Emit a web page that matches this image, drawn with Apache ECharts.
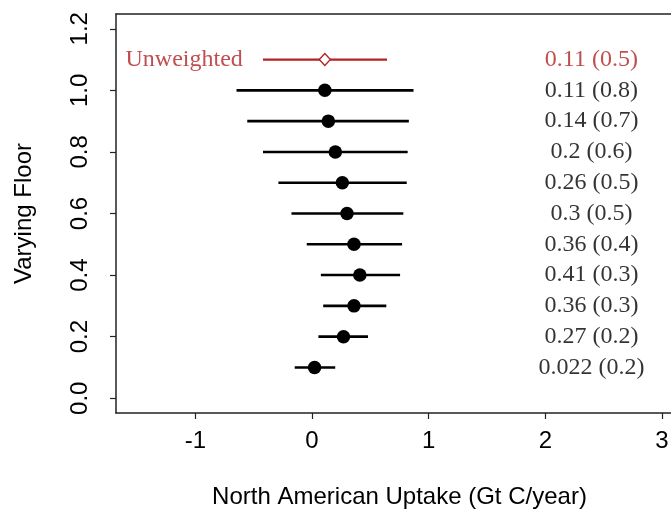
<!DOCTYPE html>
<html>
<head>
<meta charset="utf-8">
<script src="https://cdn.jsdelivr.net/npm/echarts@6/dist/echarts.min.js"></script>
<style>html,body{margin:0;padding:0;background:#fff;}#c{width:671px;height:522px;}</style>
</head>
<body>
<div id="c"></div>
<script>
// ---- data ----
const floors = [1.0, 0.9, 0.8, 0.7, 0.6, 0.5, 0.4, 0.3, 0.2, 0.1];
const means  = [0.11, 0.14, 0.2, 0.26, 0.3, 0.36, 0.41, 0.36, 0.27, 0.022];
const lows   = [-0.647, -0.555, -0.42, -0.288, -0.176, -0.045, 0.076, 0.096, 0.055, -0.148];
const highs  = [0.87, 0.83, 0.82, 0.812, 0.783, 0.772, 0.755, 0.637, 0.48, 0.199];
const sds    = ['0.8', '0.7', '0.6', '0.5', '0.5', '0.4', '0.3', '0.3', '0.2', '0.2'];
const meanLabels = ['0.11', '0.14', '0.2', '0.26', '0.3', '0.36', '0.41', '0.36', '0.27', '0.022'];

const unwY = 1.1, unwMean = 0.11, unwLow = -0.42, unwHigh = 0.643;
const unwLabel = '0.11 (0.5)';
const unwName = 'Unweighted';

const xTicks = [-1, 0, 1, 2, 3];
const yTicks = [0, 0.2, 0.4, 0.6, 0.8, 1.0, 1.2];
const labelX = 2.395;
const nameX = -1.096;

const RED = '#B22222';
const sans = 'Liberation Sans, Arial, sans-serif';
const serif = 'Liberation Serif, Times New Roman, serif';

const chart = echarts.init(document.getElementById('c'), null, {renderer: 'canvas'});

function barItem(color, w) {
  return function (params, api) {
    const y = api.value(2);
    const p1 = api.coord([api.value(0), y]);
    const p2 = api.coord([api.value(1), y]);
    return {type: 'line', shape: {x1: p1[0], y1: p1[1], x2: p2[0], y2: p2[1]},
            style: {stroke: color, lineWidth: w}};
  };
}

const axisLineStyle = {color: '#222', width: 1.5};

chart.setOption({
  animation: false,
  backgroundColor: '#fff',
  grid: {left: 116, top: 14, width: 567, height: 399, containLabel: false, outerBoundsMode: 'none'},
  xAxis: [{
    type: 'value', min: -1.68, max: 3.18, position: 'bottom',
    name: 'North American Uptake (Gt C/year)', nameLocation: 'middle', nameGap: 72,
    nameTextStyle: {fontFamily: sans, fontSize: 24, color: '#000'},
    axisLine: {show: true, onZero: false, lineStyle: axisLineStyle},
    axisTick: {show: true, length: 6, lineStyle: {color: '#222', width: 1.2}, customValues: xTicks},
    axisLabel: {show: true, fontFamily: sans, fontSize: 24, color: '#000', margin: 16, customValues: xTicks,
                formatter: v => String(v)},
    splitLine: {show: false}
  }, {
    type: 'value', min: -1.68, max: 3.18, position: 'top',
    axisLine: {show: true, onZero: false, lineStyle: axisLineStyle},
    axisTick: {show: false}, axisLabel: {show: false}, splitLine: {show: false}
  }],
  yAxis: [{
    type: 'value', min: -0.048, max: 1.248, position: 'left',
    name: 'Varying Floor', nameLocation: 'middle', nameGap: 80, nameRotate: 90,
    nameTextStyle: {fontFamily: sans, fontSize: 24, color: '#000'},
    axisLine: {show: true, onZero: false, lineStyle: axisLineStyle},
    axisTick: {show: true, length: 6, lineStyle: {color: '#222', width: 1.2}, customValues: yTicks},
    axisLabel: {show: true, rotate: 90, fontFamily: sans, fontSize: 24, color: '#000', margin: 24,
                customValues: yTicks, formatter: v => v.toFixed(1)},
    splitLine: {show: false}
  }],
  series: [
    {
      type: 'custom', renderItem: barItem('#000', 2.6),
      encode: {x: [0, 1], y: 2},
      data: floors.map((f, i) => [lows[i], highs[i], f]),
      z: 2
    },
    {
      type: 'custom', renderItem: barItem(RED, 2.3),
      encode: {x: [0, 1], y: 2},
      data: [[unwLow, unwHigh, unwY]],
      z: 2
    },
    {
      type: 'scatter', symbol: 'circle', symbolSize: 13.5,
      itemStyle: {color: '#000', opacity: 1},
      data: floors.map((f, i) => [means[i], f]),
      z: 3
    },
    {
      type: 'scatter', symbol: 'path://M0,-1L1,0L0,1L-1,0Z', symbolSize: [11, 12],
      itemStyle: {color: '#fff', borderColor: RED, borderWidth: 1.4, opacity: 1},
      data: [[unwMean, unwY]],
      z: 3
    },
    {
      type: 'scatter', symbolSize: 1, itemStyle: {color: 'rgba(0,0,0,0)'},
      label: {show: true, position: 'inside', fontFamily: serif, fontSize: 24, color: '#000',
              formatter: p => p.data[2]},
      data: floors.map((f, i) => [labelX, f, meanLabels[i] + ' (' + sds[i] + ')']),
      z: 4
    },
    {
      type: 'scatter', symbolSize: 1, itemStyle: {color: 'rgba(0,0,0,0)'},
      label: {show: true, position: 'inside', fontFamily: serif, fontSize: 24, color: RED,
              formatter: p => p.data[2]},
      data: [[labelX, unwY, unwLabel], [nameX, unwY, unwName]],
      z: 4
    }
  ]
});
</script>
</body>
</html>
